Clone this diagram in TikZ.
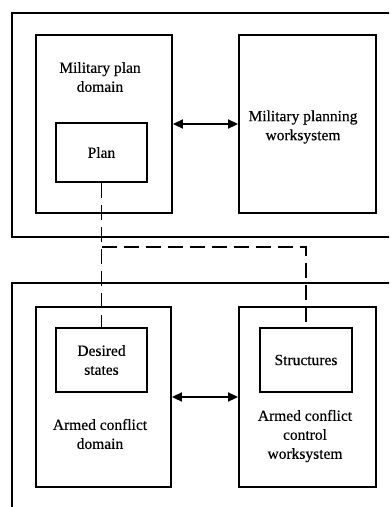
\documentclass[tikz,border=0pt]{standalone}
\usepackage{fontspec}
\setmainfont{Liberation Serif}[FakeBold=0.4]
\usetikzlibrary{arrows.meta}
\begin{document}
\begin{tikzpicture}[x=1pt,y=-1pt,
  txt/.style={font=\fontsize{15.5}{19}\selectfont, align=center, inner sep=0pt},
  box/.style={draw, line width=1.9pt, inner sep=0pt, txt},
  frame/.style={line width=1.9pt},
  biarrow/.style={line width=1.9pt, {Triangle[length=10pt,width=9pt]}-{Triangle[length=10pt,width=9pt]}},
  link/.style={line width=1.9pt, dash pattern=on 15pt off 7pt}]
\useasboundingbox (0,0) rectangle (389,507);
\clip (0,0) rectangle (389,507);
\fill[white] (0,0) rectangle (389,507);

% outer frames, running off the right and lower edges
\draw[frame] (395,13) -- (12,13) -- (12,237) -- (395,237);
\draw[frame] (395,283) -- (12,283) -- (12,515);

% planning level
\node[box, minimum width=136pt, minimum height=178pt] (pdom) at (104,124) {};
\node[box, minimum width=137pt, minimum height=178pt] (pws) at (307.5,124) {};
\node[txt] at (100,77) {Military plan\\domain};
\node[txt] at (303,127) {Military planning\\worksystem};
\node[box, minimum width=91pt, minimum height=59pt] (plan) at (101.5,152.5) {Plan};

% armed conflict level
\node[box, minimum width=135pt, minimum height=180pt] (adom) at (103.5,397) {};
\node[box, minimum width=137pt, minimum height=180pt] (aws) at (307.5,397) {};
\node[box, minimum width=91pt, minimum height=64pt] (des) at (101.5,360) {Desired\\states};
\node[box, minimum width=92pt, minimum height=64pt] (str) at (306,360) {Structures};
\node[txt] at (100,434) {Armed conflict\\domain};
\node[txt] at (305,436) {Armed conflict\\control\\worksystem};

% interactions
\draw[biarrow] (pdom.east) -- (pws.west);
\draw[biarrow] (adom.east) -- (aws.west);

% plan-to-execution links
\coordinate (jl) at (101.5,247);
\coordinate (jr) at (306,247);
\draw[link] (plan.south) -- (des.north);
\draw[link] (jl) -- (jr) -- (str.north);
\end{tikzpicture}
\end{document}
